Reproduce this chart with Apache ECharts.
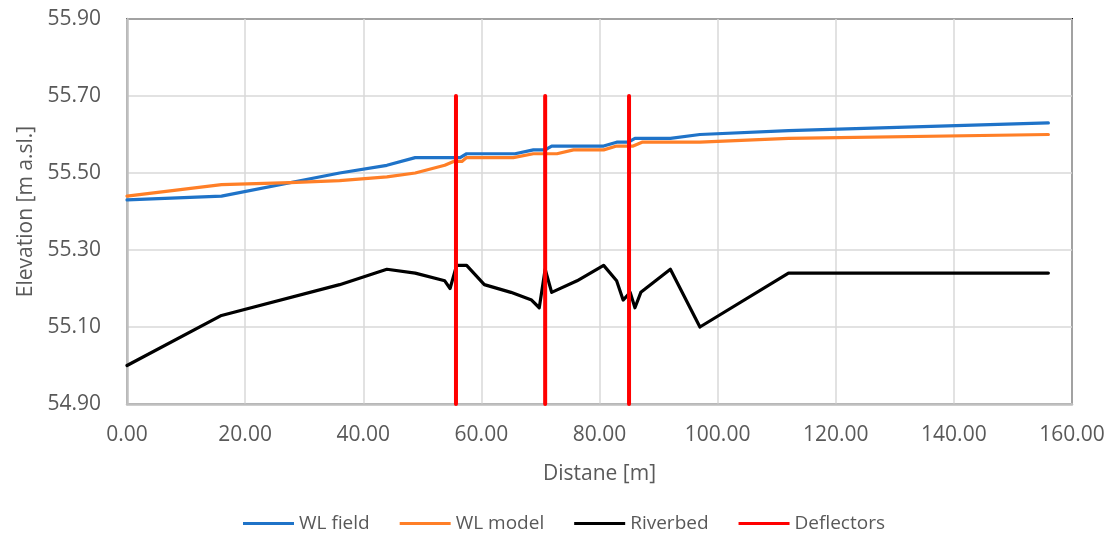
<!DOCTYPE html>
<html>
<head>
<meta charset="utf-8">
<script src="https://cdn.jsdelivr.net/npm/echarts@6/dist/echarts.min.js"></script>
<style>
html,body{margin:0;padding:0;background:#fff;}
#chart{width:1108px;height:533px;}
</style>
</head>
<body>
<div id="chart"></div>
<script>
// Data
const fieldX = [0, 16, 36, 44, 48.8, 56.4, 57.5, 65.7, 68.8, 70.8, 71.9, 80.7, 82.9, 84.9, 86.0, 92, 97, 112, 156];
const fieldY = [55.43, 55.44, 55.50, 55.52, 55.54, 55.54, 55.55, 55.55, 55.56, 55.56, 55.57, 55.57, 55.58, 55.58, 55.59, 55.59, 55.60, 55.61, 55.63];

const modelX = [0, 16, 27.6, 36, 44, 48.8, 53.8, 55.3, 56.7, 57.5, 65.4, 68.8, 72.8, 75.6, 80.7, 82.9, 85.7, 87.2, 97, 112, 156];
const modelY = [55.44, 55.47, 55.475, 55.48, 55.49, 55.50, 55.52, 55.53, 55.53, 55.54, 55.54, 55.55, 55.55, 55.56, 55.56, 55.57, 55.57, 55.58, 55.58, 55.59, 55.60];

const bedX = [0, 16, 36, 44, 48.8, 53.8, 54.7, 55.8, 57.5, 60.5, 65, 68.5, 69.8, 70.8, 71.9, 76.2, 80.7, 82.9, 84.0, 85.2, 86.0, 87.0, 92, 97, 112, 156];
const bedY = [55.00, 55.13, 55.21, 55.25, 55.24, 55.22, 55.20, 55.26, 55.26, 55.21, 55.19, 55.17, 55.15, 55.25, 55.19, 55.22, 55.26, 55.22, 55.17, 55.19, 55.15, 55.19, 55.25, 55.10, 55.24, 55.24];

const deflectorX = [55.7, 70.8, 85.0];
const deflectorTop = 55.70;
const deflectorBottom = 54.90;

const seriesNames = ['WL field', 'WL model', 'Riverbed', 'Deflectors'];

function pairs(xs, ys) { return xs.map((x, i) => [x, ys[i]]); }
const deflectorData = [];
deflectorX.forEach((x, i) => {
  if (i > 0) deflectorData.push(['-', '-']);
  deflectorData.push([x, deflectorBottom]);
  deflectorData.push([x, deflectorTop]);
});

const FONT = 'Open Sans';
const TXT = '#595959';

const chart = echarts.init(document.getElementById('chart'), null, {renderer: 'canvas'});
const lineBase = {type: 'line', symbol: 'none', showSymbol: false, animation: false, connectNulls: false};
chart.setOption({
  animation: false,
  backgroundColor: '#fff',
  grid: {left: 127, right: 36, top: 19, bottom: 129, show: true, borderColor: '#000', borderWidth: 2, backgroundColor: 'transparent'},
  legend: {
    data: seriesNames,
    left: 238, top: 509,
    itemWidth: 51, itemHeight: 14, itemGap: 30,
    textStyle: {fontFamily: FONT, fontSize: 19, color: TXT},
    icon: 'path://M0,6 L51,6 L51,9 L0,9 Z'
  },
  xAxis: {
    type: 'value', min: 0, max: 160, interval: 20,
    name: 'Distane [m]', nameLocation: 'middle', nameGap: 60,
    nameTextStyle: {fontFamily: FONT, fontSize: 21, color: TXT},
    axisLine: {show: true, onZero: false, lineStyle: {color: '#bfbfbf', width: 2.5}},
    axisTick: {show: false},
    axisLabel: {fontFamily: FONT, fontSize: 21, color: TXT, margin: 21, formatter: v => v.toFixed(2)},
    splitLine: {show: true, lineStyle: {color: '#d9d9d9', width: 1.5}}
  },
  yAxis: {
    type: 'value', min: 54.9, max: 55.9, interval: 0.2,
    name: 'Elevation [m a.sl.]', nameLocation: 'middle', nameGap: 90, nameRotate: 90,
    nameTextStyle: {fontFamily: FONT, fontSize: 21, color: TXT},
    axisLine: {show: true, onZero: false, lineStyle: {color: '#bfbfbf', width: 2.5}},
    axisTick: {show: false},
    axisLabel: {fontFamily: FONT, fontSize: 21, color: TXT, margin: 26, formatter: v => v.toFixed(2)},
    splitLine: {show: true, lineStyle: {color: '#d9d9d9', width: 1.5}}
  },
  series: [
    Object.assign({}, lineBase, {name: seriesNames[0], data: pairs(fieldX, fieldY), color: '#1f73c8',
      lineStyle: {color: '#1f73c8', width: 3.2, join: 'round', cap: 'round'}, z: 3}),
    Object.assign({}, lineBase, {name: seriesNames[1], data: pairs(modelX, modelY), color: '#ff7f27',
      lineStyle: {color: '#ff7f27', width: 3.2, join: 'round', cap: 'round'}, z: 3}),
    Object.assign({}, lineBase, {name: seriesNames[2], data: pairs(bedX, bedY), color: '#000000',
      lineStyle: {color: '#000000', width: 3.2, join: 'round', cap: 'round'}, z: 3}),
    Object.assign({}, lineBase, {name: seriesNames[3], data: deflectorData, color: '#ff0000',
      lineStyle: {color: '#ff0000', width: 4, join: 'round', cap: 'round'}, z: 4})
  ]
});
</script>
</body>
</html>
